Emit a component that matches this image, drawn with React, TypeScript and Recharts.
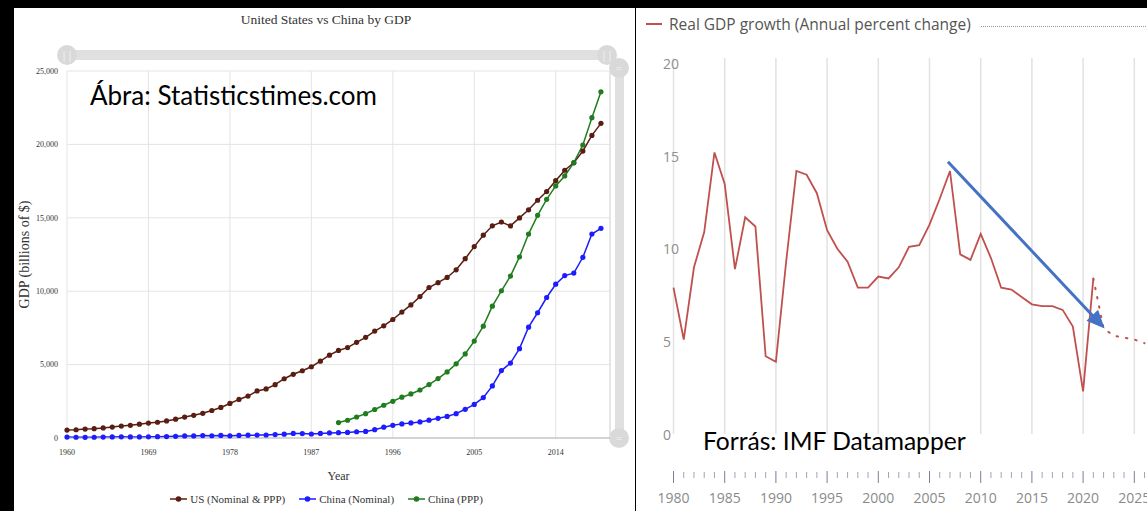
import React from "react";
import {
  LineChart,
  Line,
  XAxis,
  YAxis,
  CartesianGrid,
  Legend,
  ReferenceLine,
} from "recharts";

// ---- left chart: United States vs China by GDP (billions of $) ----
const gdpYears = [
  1960, 1961, 1962, 1963, 1964, 1965, 1966, 1967, 1968, 1969,
  1970, 1971, 1972, 1973, 1974, 1975, 1976, 1977, 1978, 1979,
  1980, 1981, 1982, 1983, 1984, 1985, 1986, 1987, 1988, 1989,
  1990, 1991, 1992, 1993, 1994, 1995, 1996, 1997, 1998, 1999,
  2000, 2001, 2002, 2003, 2004, 2005, 2006, 2007, 2008, 2009,
  2010, 2011, 2012, 2013, 2014, 2015, 2016, 2017, 2018, 2019,
];
const usGdp = [
  543, 563, 605, 638, 686, 744, 815, 862, 943, 1019,
  1073, 1165, 1280, 1425, 1545, 1684, 1873, 2082, 2352, 2627,
  2857, 3207, 3343, 3634, 4037, 4339, 4580, 4855, 5236, 5642,
  5963, 6158, 6520, 6859, 7287, 7640, 8073, 8577, 9063, 9631,
  10252, 10582, 10936, 11458, 12214, 13037, 13815, 14452, 14713, 14449,
  14992, 15543, 16197, 16785, 17527, 18238, 18745, 19543, 20612, 21433,
];
const chinaNominal = [
  60, 50, 47, 51, 60, 70, 77, 73, 71, 80,
  93, 100, 114, 139, 144, 163, 154, 175, 150, 178,
  191, 196, 205, 231, 260, 310, 301, 273, 312, 348,
  361, 383, 427, 445, 564, 735, 864, 962, 1029, 1094,
  1211, 1339, 1471, 1660, 1955, 2286, 2752, 3550, 4594, 5102,
  6087, 7552, 8532, 9570, 10476, 11062, 11233, 12310, 13895, 14280,
];
const pppStartYear = 1990;
const chinaPpp = [
  1050, 1210, 1430, 1660, 1940, 2230, 2500, 2780, 3000, 3270,
  3640, 4050, 4500, 5050, 5730, 6600, 7620, 8980, 10030, 11030,
  12340, 13890, 15170, 16260, 17170, 17850, 18760, 19960, 21820, 23580,
];
const gdpYearTicks = [1960, 1969, 1978, 1987, 1996, 2005, 2014];
const gdpValueTicks = [0, 5000, 10000, 15000, 20000, 25000];

// ---- right chart: Real GDP growth (annual percent change) ----
const growthYears = [
  1980, 1981, 1982, 1983, 1984, 1985, 1986, 1987, 1988, 1989,
  1990, 1991, 1992, 1993, 1994, 1995, 1996, 1997, 1998, 1999,
  2000, 2001, 2002, 2003, 2004, 2005, 2006, 2007, 2008, 2009,
  2010, 2011, 2012, 2013, 2014, 2015, 2016, 2017, 2018, 2019,
  2020, 2021, 2022, 2023, 2024, 2025, 2026,
];
// 1980 - 2021
const growthActual = [
  7.9, 5.1, 9.0, 10.9, 15.2, 13.5, 8.9, 11.7, 11.2, 4.2,
  3.9, 9.3, 14.2, 14.0, 13.0, 11.0, 10.0, 9.3, 7.9, 7.9,
  8.5, 8.4, 9.0, 10.1, 10.2, 11.3, 12.7, 14.2, 9.7, 9.4,
  10.8, 9.5, 7.9, 7.8, 7.4, 7.0, 6.9, 6.9, 6.7, 5.8,
  2.3, 8.4,
];
// 2021 - 2026 (projection, dotted)
const forecastStartYear = 2021;
const growthForecast = [8.4, 5.7, 5.3, 5.2, 5.1, 4.9];
const growthAxisYears = [
  1980, 1981, 1982, 1983, 1984, 1985, 1986, 1987, 1988, 1989,
  1990, 1991, 1992, 1993, 1994, 1995, 1996, 1997, 1998, 1999,
  2000, 2001, 2002, 2003, 2004, 2005, 2006, 2007, 2008, 2009,
  2010, 2011, 2012, 2013, 2014, 2015, 2016, 2017, 2018, 2019,
  2020, 2021, 2022, 2023, 2024, 2025, 2026, 2027, 2028, 2029, 2030,
];
const growthGridYears = [1980, 1985, 1990, 1995, 2000, 2005, 2010, 2015, 2020, 2025, 2030];
const growthValueTicks = [0, 5, 10, 15, 20];
const arrowFrom = { x: 2006.8, y: 14.7 };
const arrowTo = { x: 2022.1, y: 5.7 };

const US_COLOR = "#5a1d12";
const CN_NOM_COLOR = "#1c1cff";
const CN_PPP_COLOR = "#1f7d1f";
const GROWTH_COLOR = "#c0504d";
const ARROW_COLOR = "#4472c4";
const SERIF = "'Liberation Serif', 'Times New Roman', serif";
const SANS = "'Open Sans', 'Noto Sans', sans-serif";
const CALIBRI = "Lato, 'Noto Sans', sans-serif";

const gdpData = gdpYears.map((year, i) => ({
  year,
  us: usGdp[i],
  cnNominal: chinaNominal[i],
  cnPpp: year >= pppStartYear ? chinaPpp[year - pppStartYear] : null,
}));

const growthData = growthYears.map((year, i) => ({
  year,
  actual: i < growthActual.length ? growthActual[i] : null,
  forecast: year >= forecastStartYear ? growthForecast[year - forecastStartYear] : null,
}));

const gdpSeries = [
  { key: "us", name: "US (Nominal & PPP)", color: US_COLOR },
  { key: "cnNominal", name: "China (Nominal)", color: CN_NOM_COLOR },
  { key: "cnPpp", name: "China (PPP)", color: CN_PPP_COLOR },
];

function GdpLegend() {
  return (
    <div
      style={{
        display: "flex",
        justifyContent: "center",
        gap: 14,
        fontFamily: SERIF,
        fontSize: 11,
        color: "#333",
        paddingLeft: 4,
      }}
    >
      {gdpSeries.map((s) => (
        <div key={s.key} style={{ display: "flex", alignItems: "center", gap: 3 }}>
          <svg width={17} height={8}>
            <line x1={0} y1={4} x2={17} y2={4} stroke={s.color} strokeWidth={1.5} />
            <circle cx={8.5} cy={4} r={2.8} fill={s.color} />
          </svg>
          <span>{s.name}</span>
        </div>
      ))}
    </div>
  );
}

function GrowthLegend() {
  return (
    <div style={{ display: "flex", alignItems: "center", fontFamily: SANS, fontSize: 15.5, color: "#555" }}>
      <svg width={33} height={10} style={{ flex: "none" }}>
        <line x1={10} y1={5} x2={26} y2={5} stroke={GROWTH_COLOR} strokeWidth={2} />
      </svg>
      <span style={{ whiteSpace: "nowrap" }}>Real GDP growth (Annual percent change)</span>
      <div style={{ flex: 1, marginLeft: 10, marginTop: 4, borderTop: "1px dotted #999" }} />
    </div>
  );
}

function GrowthYTick(props: any) {
  const { x, y, payload } = props;
  return (
    <text x={x - 10.5} y={y} dominantBaseline="central" textAnchor="start" fill="#8e8e8e" fontSize={14} fontFamily={SANS}>
      {payload.value}
    </text>
  );
}

function GrowthXTick(props: any) {
  const { x, y, payload } = props;
  const major = payload.value % 5 === 0;
  if (!major) {
    return <line x1={x} x2={x} y1={y + 38} y2={y + 44} stroke="#a3a3b8" strokeWidth={1} />;
  }
  return (
    <g>
      <line x1={x} x2={x} y1={y + 37} y2={y + 49} stroke="#7c7c9a" strokeWidth={1} />
      <text x={x} y={y + 63} dominantBaseline="central" textAnchor="middle" fill="#8a8a8a" fontSize={14} fontFamily={SANS}>
        {payload.value}
      </text>
    </g>
  );
}

function ArrowShape(props: any) {
  const { x1, y1, x2, y2 } = props;
  const dx = x2 - x1;
  const dy = y2 - y1;
  const len = Math.hypot(dx, dy) || 1;
  const ux = dx / len;
  const uy = dy / len;
  const head = 18;
  const half = 8;
  const bx = x2 - ux * head;
  const by = y2 - uy * head;
  return (
    <g>
      <line x1={x1} y1={y1} x2={bx + ux * 2} y2={by + uy * 2} stroke={ARROW_COLOR} strokeWidth={3} />
      <polygon
        points={`${x2},${y2} ${bx - uy * half},${by + ux * half} ${bx + uy * half},${by - ux * half}`}
        fill={ARROW_COLOR}
      />
    </g>
  );
}

const handle: React.CSSProperties = {
  position: "absolute",
  width: 20,
  height: 20,
  borderRadius: 10,
  background: "#d9d9d9",
  color: "#f4f4f4",
  fontSize: 11,
  lineHeight: "20px",
  textAlign: "center",
  fontFamily: SANS,
};

export default function App() {
  return (
    <div
      style={{
        position: "fixed",
        left: 0,
        top: 0,
        width: 1147,
        height: 511,
        background: "#000",
        overflow: "hidden",
      }}
    >
      {/* left panel */}
      <div style={{ position: "absolute", left: 14, top: 8, width: 621, height: 503, background: "#fff", overflow: "hidden" }}>
        <div
          style={{
            position: "absolute",
            left: 0,
            width: 624,
            top: 4,
            textAlign: "center",
            fontFamily: SERIF,
            fontSize: 13.5,
            color: "#333",
          }}
        >
          United States vs China by GDP
        </div>
        {/* range sliders */}
        <div style={{ position: "absolute", left: 53, top: 42, width: 540, height: 10, background: "#e0e0e0" }} />
        <div style={{ ...handle, left: 43, top: 37 }}>||</div>
        <div style={{ ...handle, left: 583, top: 37 }}>||</div>
        <div style={{ position: "absolute", left: 601, top: 62, width: 9, height: 368, background: "#e0e0e0" }} />
        <div style={{ ...handle, left: 595, top: 50 }}>=</div>
        <div style={{ ...handle, left: 595, top: 420 }}>=</div>

        <div style={{ position: "absolute", left: 0, top: 0 }}>
          <LineChart width={621} height={503} data={gdpData} margin={{ top: 63, right: 25, bottom: 0, left: 0 }}>
            <CartesianGrid stroke="#e4e4e4" />
            <XAxis
              dataKey="year"
              type="number"
              domain={[1960, 2020]}
              ticks={gdpYearTicks}
              interval={0}
              height={73}
              tickSize={0}
              tickMargin={11}
              axisLine={{ stroke: "#b5b5b5" }}
              tick={{ fontSize: 8, fill: "#333", fontFamily: SERIF }}
              label={{ value: "Year", position: "insideTop", offset: 33, style: { fontSize: 12, fill: "#333", fontFamily: SERIF } }}
            />
            <YAxis
              domain={[0, 25000]}
              ticks={gdpValueTicks}
              width={53}
              tickSize={0}
              tickMargin={9}
              axisLine={false}
              tickFormatter={(v: number) => v.toLocaleString("en-US")}
              tick={{ fontSize: 8, fill: "#333", fontFamily: SERIF }}
              label={{
                value: "GDP (billions of $)",
                angle: -90,
                position: "insideLeft",
                offset: 10,
                style: { textAnchor: "middle", fontSize: 14, fill: "#333", fontFamily: SERIF },
              }}
            />
            <ReferenceLine x={2020} stroke="#dcdcdc" />
            <Legend
              layout="horizontal"
              verticalAlign="middle"
              align="center"
              wrapperStyle={{ top: 485, left: 0, width: 621 }}
              content={() => <GdpLegend />}
            />
            {gdpSeries.map((s) => (
              <Line
                key={s.key}
                dataKey={s.key}
                name={s.name}
                stroke={s.color}
                strokeWidth={1.5}
                dot={{ r: 2.6, fill: s.color, stroke: s.color, strokeWidth: 0 }}
                isAnimationActive={false}
              />
            ))}
          </LineChart>
        </div>
        <div
          style={{
            position: "absolute",
            left: 76,
            top: 72,
            fontFamily: CALIBRI,
            fontSize: 26,
            lineHeight: "30px",
            color: "#000",
          }}
        >
          Ábra: Statisticstimes.com
        </div>
      </div>

      {/* right panel */}
      <div style={{ position: "absolute", left: 636, top: 8, width: 511, height: 503, background: "#fff", overflow: "hidden" }}>
        <div style={{ position: "absolute", left: 0, top: 0 }}>
          <LineChart width={560} height={503} data={growthData} margin={{ top: 50, right: 10.5, bottom: 0, left: 0 }}>
            {growthGridYears.map((yr) => (
              <ReferenceLine key={yr} x={yr} stroke="#e2e2e2" strokeWidth={1.5} />
            ))}
            <XAxis
              dataKey="year"
              type="number"
              domain={[1980, 2030]}
              ticks={growthAxisYears}
              interval={0}
              height={77}
              tickSize={0}
              tickMargin={0}
              axisLine={false}
              tick={<GrowthXTick />}
            />
            <YAxis
              domain={[0, 20.3]}
              ticks={growthValueTicks}
              width={37.5}
              tickSize={0}
              tickMargin={0}
              axisLine={false}
              tick={<GrowthYTick />}
            />
            <Legend
              layout="horizontal"
              verticalAlign="middle"
              align="center"
              wrapperStyle={{ top: 5, left: 0, width: 560 }}
              content={() => <GrowthLegend />}
            />
            <Line
              dataKey="actual"
              stroke={GROWTH_COLOR}
              strokeWidth={1.8}
              dot={false}
              isAnimationActive={false}
            />
            <Line
              dataKey="forecast"
              stroke={GROWTH_COLOR}
              strokeWidth={2}
              strokeDasharray="1.5 8"
              strokeLinecap="round"
              dot={false}
              isAnimationActive={false}
            />
            <ReferenceLine
              segment={[arrowFrom, arrowTo]}
              ifOverflow="visible"
              shape={(p: any) => <ArrowShape {...p} />}
            />
          </LineChart>
        </div>
        <div
          style={{
            position: "absolute",
            left: 67,
            top: 418,
            fontFamily: CALIBRI,
            fontSize: 24.6,
            lineHeight: "30px",
            color: "#000",
          }}
        >
          Forrás: IMF Datamapper
        </div>
      </div>
    </div>
  );
}
